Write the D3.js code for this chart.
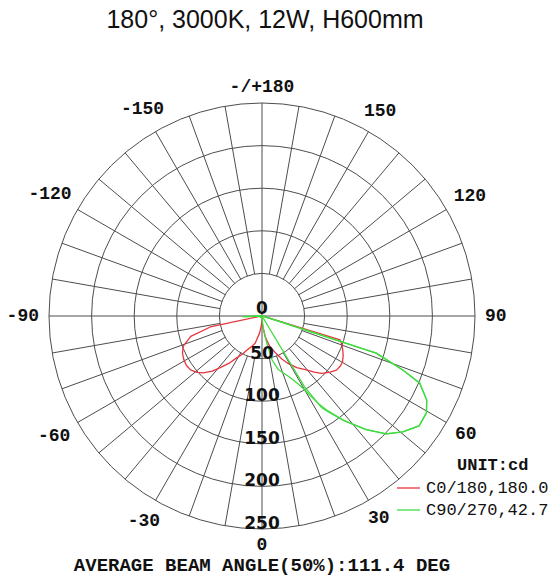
<!DOCTYPE html>
<html>
<head>
<meta charset="utf-8">
<script src="https://cdn.jsdelivr.net/npm/d3@7"></script>
<style>
  body { margin: 0; background: #fff; }
  svg { display: block; }
  .grid { fill: none; stroke: #4d4d4d; stroke-width: 1; }
  .curve { fill: none; stroke-width: 1.3; stroke-linejoin: round; }
  .angle-label { font-family: "Liberation Mono", monospace; font-weight: bold; font-size: 18px; fill: #111; }
  .radial-label { font-family: "DejaVu Sans", sans-serif; font-weight: bold; font-size: 17px; fill: #111; }
  .legend-text { font-family: "Liberation Mono", monospace; font-size: 17px; fill: #111; }
  .title { font-family: "Liberation Sans", Arial, sans-serif; font-size: 25px; fill: #111; }
</style>
</head>
<body>
<svg id="chart"></svg>
<script>
const title = '180°, 3000K, 12W, H600mm';
const footer = 'AVERAGE BEAM ANGLE(50%):111.4 DEG';
const unitLabel = 'UNIT:cd';

const angleTicks = [0, 30, 60, 90, 120, 150, 180, -150, -120, -90, -60, -30];
const angleTickLabels = ['0', '30', '60', '90', '120', '150', '-/+180', '-150', '-120', '-90', '-60', '-30'];
const radialTicks = [0, 50, 100, 150, 200, 250];

const seriesNames = ['C0/180,180.0', 'C90/270,42.7'];
const seriesColors = ['#e8353d', '#3fdc3f'];

// C0/180 plane (degrees, cd)
const c0Angles = [-180, -150, -120, -100, -90, -82, -78, -74, -69, -65, -61, -57, -53, -49, -46, -42, -39, -35, -31, -27, -24, -19, -14, -8, -4,
  0, 4, 9, 14, 20, 25, 29, 34, 39, 43, 46, 50, 54, 57, 60, 64, 67, 70, 73, 76, 80, 90, 100, 120, 150, 180];
const c0Values = [1, 1, 1, 1, 2, 3, 62, 87, 99, 103, 105, 106, 105, 101, 96, 87, 78, 68, 57, 50, 44, 38, 33, 20, 11,
  5, 12, 25, 36, 46, 56, 64, 73, 81, 90, 97, 103, 108, 109, 109, 106, 103, 100, 96, 3, 2, 2, 1, 1, 1, 1];

// C90/270 plane, drawn as two traces
const c90Angles = [-180, -120, -100, -95, -88, -82, -60, -30, -10, 0, 6, 10, 13, 17, 24, 28, 30, 31, 33, 34.5, 38, 42.5, 46.5, 50.5,
  55, 59.5, 63, 67, 69, 72, 74, 80, 90, 120, 180];
const c90Values = [0, 0, 1, 2, 22, 3, 2, 2, 2, 3, 15, 32, 53, 66, 78, 90, 100, 108, 124, 134, 155, 181, 201, 214,
  225, 224, 217, 201, 177, 141, 4, 2, 2, 1, 0];
const c270Values = [0, 0, 1, 2, 22, 3, 2, 2, 2, 3, 2, 2, 2, 2, 2, 2, 2, 97, 128, 136, 156, 181, 201, 214,
  225, 224, 217, 201, 177, 141, 4, 2, 2, 1, 0];

class PolarChart {

    constructor(_config) {
        this.config = {
            parentElement: _config.parentElement,
            containerWidth: 551,
            containerHeight: 577,
            cx: 262,
            cy: 316,
            radius: 213
        };
        this.initVis();
    }

    initVis() {
        let vis = this;

        vis.svg = d3.select(vis.config.parentElement)
            .attr('width', vis.config.containerWidth)
            .attr('height', vis.config.containerHeight);

        vis.rScale = d3.scaleLinear()
            .domain([0, 250])
            .range([0, vis.config.radius]);

        vis.chart = vis.svg.append('g')
            .attr('transform', `translate(${vis.config.cx},${vis.config.cy})`);

        // 0 deg points down, 90 deg points right
        vis.toRad = deg => Math.PI - deg * Math.PI / 180;

        vis.series = [
            {name: seriesNames[0], color: seriesColors[0], points: c0Angles.map((a, i) => [a, c0Values[i]])},
            {name: seriesNames[1], color: seriesColors[1], points: c90Angles.map((a, i) => [a, c90Values[i]])},
            {name: seriesNames[1], color: seriesColors[1], points: c90Angles.map((a, i) => [a, c270Values[i]])}
        ];

        vis.renderVis();
    }

    renderVis() {
        let vis = this;
        let R = vis.config.radius;
        let r0 = vis.rScale(radialTicks[1]);

        // circles
        vis.chart.selectAll('.ring')
            .data(radialTicks.filter(d => d > 0))
            .join('circle')
            .attr('class', 'grid ring')
            .attr('r', d => vis.rScale(d));

        // spokes every 10 deg, main axes go through the centre
        vis.chart.selectAll('.spoke')
            .data(d3.range(0, 360, 10))
            .join('line')
            .attr('class', 'grid spoke')
            .attr('x1', d => (d % 90 === 0 ? 0 : r0) * Math.sin(vis.toRad(d)))
            .attr('y1', d => -(d % 90 === 0 ? 0 : r0) * Math.cos(vis.toRad(d)))
            .attr('x2', d => R * Math.sin(vis.toRad(d)))
            .attr('y2', d => -R * Math.cos(vis.toRad(d)));

        // curves
        let line = d3.lineRadial()
            .angle(d => vis.toRad(d[0]))
            .radius(d => vis.rScale(d[1]));

        vis.chart.selectAll('.curve')
            .data(vis.series)
            .join('path')
            .attr('class', 'curve')
            .attr('stroke', d => d.color)
            .attr('d', d => line(d.points));

        // radial labels on the downward axis
        vis.chart.selectAll('.radial-label')
            .data(radialTicks)
            .join('text')
            .attr('class', 'radial-label')
            .attr('text-anchor', 'middle')
            .attr('dominant-baseline', 'central')
            .attr('x', 0)
            .attr('y', d => d === 0 ? -8 : vis.rScale(d) - 6)
            .text(d => d);

        // angle labels
        vis.chart.selectAll('.angle-label')
            .data(angleTicks)
            .join('text')
            .attr('class', 'angle-label')
            .attr('text-anchor', 'middle')
            .attr('dominant-baseline', 'central')
            .text((d, i) => angleTickLabels[i])
            .each(function(d) {
                let hw = this.getComputedTextLength() / 2;
                let a = d * Math.PI / 180;
                let r = R + 10 + Math.abs(Math.sin(a)) * hw + Math.abs(Math.cos(a)) * 6;
                d3.select(this)
                    .attr('x', r * Math.sin(a))
                    .attr('y', r * Math.cos(a));
            });

        // title and footer
        vis.svg.append('text')
            .attr('class', 'title')
            .attr('text-anchor', 'middle')
            .attr('x', 265)
            .attr('y', 28)
            .text(title);

        vis.svg.append('text')
            .attr('class', 'angle-label')
            .attr('text-anchor', 'middle')
            .attr('x', 262)
            .attr('y', 571)
            .style('font-size', '19px')
            .text(footer);

        // legend
        let legend = vis.svg.append('g')
            .attr('transform', 'translate(397,465)');

        legend.append('text')
            .attr('class', 'angle-label')
            .attr('x', 60)
            .attr('dominant-baseline', 'central')
            .style('font-size', '17px')
            .text(unitLabel);

        let items = legend.selectAll('.item')
            .data(seriesNames)
            .join('g')
            .attr('class', 'item')
            .attr('transform', (d, i) => `translate(0,${23 + i * 22})`);

        items.append('line')
            .attr('x1', 0)
            .attr('x2', 23)
            .attr('stroke', (d, i) => seriesColors[i])
            .attr('stroke-width', 1.3);

        items.append('text')
            .attr('class', 'legend-text')
            .attr('x', 29)
            .attr('dominant-baseline', 'central')
            .text(d => d);
    }
}

new PolarChart({parentElement: '#chart'});
</script>
</body>
</html>
